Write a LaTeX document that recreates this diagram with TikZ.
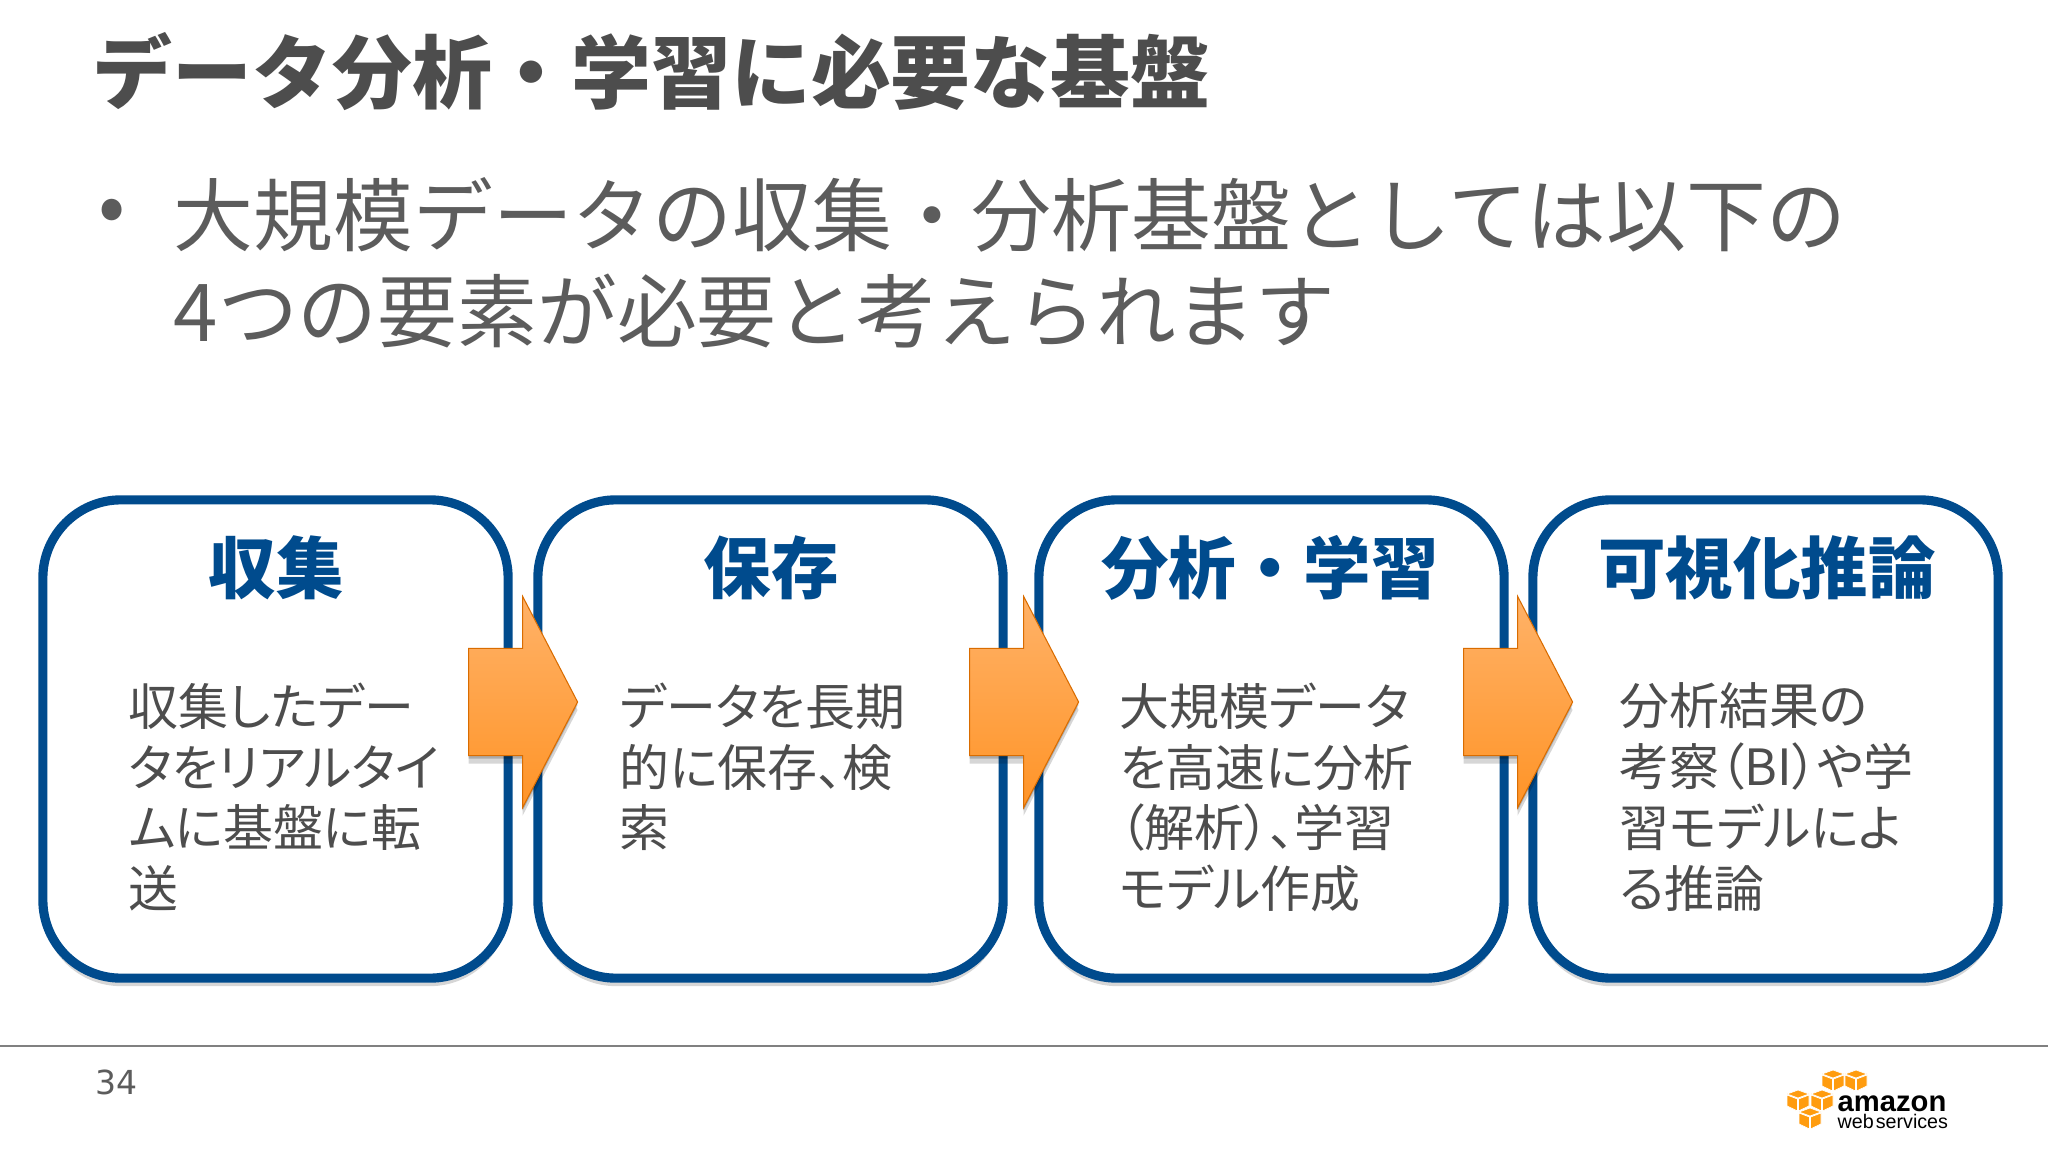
\documentclass[tikz,border=0pt]{standalone}
\usepackage{fontspec}
\setmainfont{Noto Sans CJK JP}
\newfontfamily\bodyfont[RawFeature=+palt]{Noto Sans CJK JP}
\newfontfamily\logofont{Liberation Sans}
\newfontfamily\pagefont{DejaVu Sans}
\usetikzlibrary{shapes.arrows,shadows}

\definecolor{boxblue}{HTML}{004B8D}
\definecolor{titlegray}{HTML}{4D4D4D}
\definecolor{bodygray}{HTML}{5C5C5C}
\definecolor{cubeorange}{HTML}{FF9C0F}
\definecolor{arrowtop}{HTML}{FFB268}
\definecolor{arrowbottom}{HTML}{FF9427}

\tikzset{
  softshadow/.style={
    drop shadow={shadow xshift=0cm,shadow yshift=-.03cm,fill=black,opacity=.2},
    drop shadow={shadow xshift=0cm,shadow yshift=-.08cm,fill=black,opacity=.16}},
  stepbox/.style={draw=boxblue,line width=2.6pt,fill=white,rounded corners=.78cm,
    minimum width=4.65cm,minimum height=4.78cm,inner sep=0,softshadow},
  stephead/.style={text=boxblue,inner sep=0,font=\fontsize{19.2pt}{23pt}\selectfont\bfseries},
  stepbody/.style={text=titlegray,inner sep=0,anchor=north west,align=left,
    font=\bodyfont\fontsize{14.2pt}{17.3pt}\selectfont},
  steparrow/.style={single arrow,anchor=tail,draw=orange!85!black,line width=.3pt,
    inner sep=0,minimum height=1.09cm,
    single arrow head extend=.52cm,single arrow head indent=0cm,single arrow tip angle=125,
    top color=arrowtop,bottom color=arrowbottom,softshadow},
  bigline/.style={text=bodygray,inner sep=0,anchor=west,font=\fontsize{22.7pt}{27pt}\selectfont},
  cubeface/.style={fill=cubeorange,draw=white,line width=.2pt,line join=round}
}

\begin{document}
\begin{tikzpicture}[x=0.01cm,y=-0.01cm]
\useasboundingbox (0,0) rectangle (2048,1152);

% Title and bullet text
\node[bigline,text=titlegray,font=\fontsize{22.7pt}{27pt}\selectfont\bfseries] (title) at (92,72) {データ分析・学習に必要な基盤};
\node[bigline] (dot) at (98,216) {•};
\node[bigline] (lineone) at (173,215) {大規模データの収集・分析基盤としては以下の};
\node[bigline] (linetwo) at (173,311) {4つの要素が必要と考えられます};

% The four boxes
\node[stepbox] (collect) at (275.5,739) {};
\node[stepbox] (store) at (770.5,739) {};
\node[stepbox] (analyze) at (1271.5,739) {};
\node[stepbox] (visual) at (1765.5,739) {};

\node[stephead] (collecthead) at (276,568) {収集};
\node[stephead] (storehead) at (771,568) {保存};
\node[stephead] (analyzehead) at (1270,568) {分析・学習};
\node[stephead] (visualhead) at (1767,568) {可視化推論};

\node[stepbody] (collectbody) at (128,682) {収集したデー\\タをリアルタイ\\ムに基盤に転\\送};
\node[stepbody] (storebody) at (619,682) {データを長期\\的に保存、検\\索};
\node[stepbody] (analyzebody) at (1119,682) {大規模データ\\を高速に分析\\（解析）、学習\\モデル作成};
\node[stepbody] (visualbody) at (1619,682) {分析結果の\\考察（BI）や学\\習モデルによ\\る推論};

% Arrows between the boxes
\node[steparrow] (arrowone) at (468,702) {\rule{0pt}{1.06cm}};
\node[steparrow] (arrowtwo) at (969,702) {\rule{0pt}{1.06cm}};
\node[steparrow] (arrowthree) at (1463,702) {\rule{0pt}{1.06cm}};

% Footer
\draw[gray,line width=.4pt] (0,1046) coordinate (footl) -- (2048,1046) coordinate (footr);
\node[text=bodygray,inner sep=0,anchor=west,font=\pagefont\fontsize{9.4pt}{11pt}\selectfont] (pagenum) at (95,1082) {34};

% Logo
\foreach \cx/\cy in {1833/1080,1856/1080,1798/1100,1822/1100,1810/1118}{
  \fill[cubeface] (\cx-11,\cy-6) -- (\cx,\cy-10) -- (\cx+11,\cy-6) -- (\cx,\cy-2) -- cycle;
  \fill[cubeface] (\cx-11,\cy-5) -- (\cx-.5,\cy-1) -- (\cx-.5,\cy+11) -- (\cx-11,\cy+6) -- cycle;
  \fill[cubeface] (\cx+11,\cy-5) -- (\cx+.5,\cy-1) -- (\cx+.5,\cy+11) -- (\cx+11,\cy+6) -- cycle;
}
\node[inner sep=0,anchor=base west,font=\logofont\fontsize{8.3pt}{10pt}\selectfont\bfseries] (logoname) at (1837,1111) {amazon};
\node[inner sep=0,anchor=base west,font=\logofont\fontsize{5.6pt}{7pt}\selectfont] (logosub) at (1837,1128) {web\hspace{.1em}services};
\end{tikzpicture}
\end{document}
